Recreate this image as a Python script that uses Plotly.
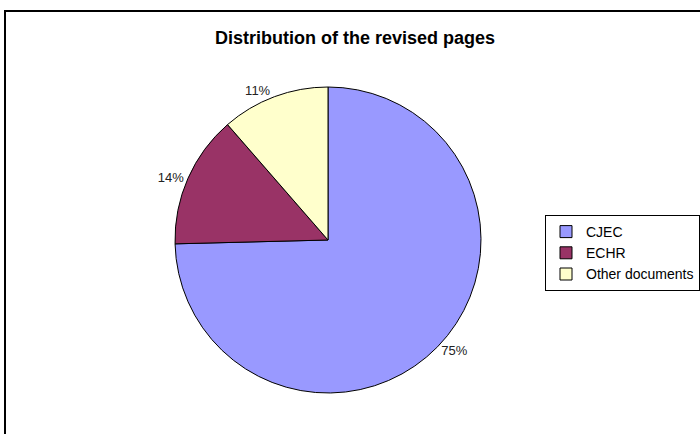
import plotly.graph_objects as go

labels = ["CJEC", "ECHR", "Other documents"]
values = [74.6, 14.0, 11.4]
colors = ["#9999FF", "#993366", "#FFFFCC"]
title_text = "Distribution of the revised pages"

W, H = 700, 434
cx, cy, r = 328, 240, 153

fig = go.Figure(go.Pie(
    labels=labels,
    values=values,
    sort=False,
    direction="clockwise",
    rotation=0,
    marker=dict(colors=colors, line=dict(color="black", width=1)),
    textinfo="percent",
    texttemplate="%{percent:.0%}",
    textposition="outside",
    textfont=dict(family="Arial, Liberation Sans", size=13, color="#222"),
    domain=dict(x=[(cx - r) / W, (cx + r) / W],
                y=[(H - cy - r) / H, (H - cy + r) / H]),
    showlegend=True,
    automargin=False,
))

fig.update_layout(
    width=W, height=H,
    margin=dict(l=0, r=0, t=0, b=0),
    paper_bgcolor="white",
    plot_bgcolor="white",
    font=dict(family="Arial, Liberation Sans", color="black"),
    title=dict(text="<b>" + title_text + "</b>", x=355 / W, xanchor="center",
               y=1 - 38 / H, yanchor="middle",
               font=dict(size=18, family="Arial, Liberation Sans", color="black")),
    legend=dict(x=1, y=1 - 215 / H, xanchor="right", yanchor="top",
                bordercolor="black", borderwidth=1, bgcolor="white",
                itemwidth=30,
                font=dict(size=14, family="Arial, Liberation Sans", color="black")),
    shapes=[dict(type="rect", xref="paper", yref="paper",
                 x0=5 / W, y0=-0.01, x1=1.01, y1=1 - 11 / H,
                 line=dict(color="black", width=2))],
)

fig.write_html("out.html", config={"displayModeBar": False},
               post_script="document.body.style.margin='0px';document.body.style.overflow='hidden';")
